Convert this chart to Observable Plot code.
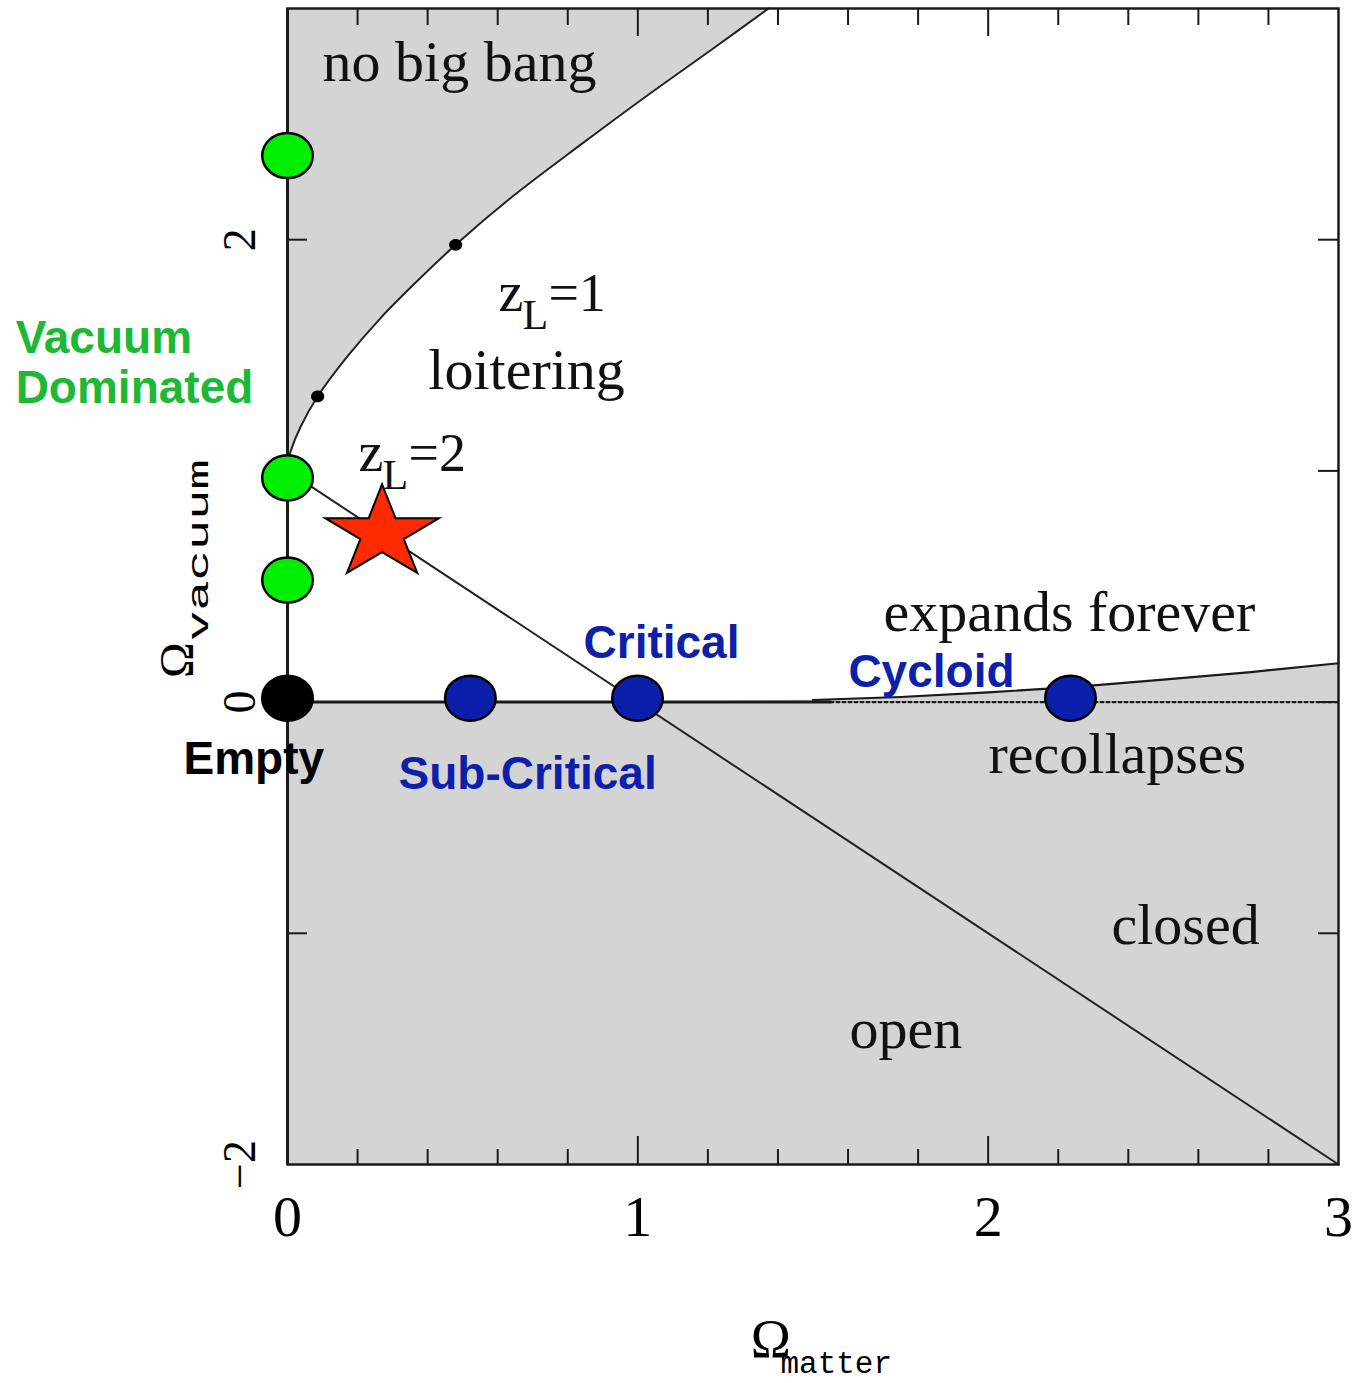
<!DOCTYPE html>
<html><head><meta charset="utf-8">
<script src="https://cdn.jsdelivr.net/npm/d3@7"></script>
<script src="https://cdn.jsdelivr.net/npm/@observablehq/plot@0.6"></script>
<style>html,body{margin:0;padding:0;background:#fff} svg{display:block}</style>
</head><body><div id="chart"></div>
<script>
// ---- data (Ω_matter, Ω_vacuum) ----
const noBigBangX = [0, 0.002, 0.009, 0.037, 0.086, 0.171, 0.265, 0.360, 0.480, 0.645, 0.836, 1.028, 1.216, 1.373];
const noBigBangY = [1.0, 1.04, 1.085, 1.19, 1.322, 1.495, 1.660, 1.806, 1.978, 2.190, 2.410, 2.625, 2.828, 3.0];
const flatX = [0, 3];
const flatY = [1, -2];
const recollapseX = [0, 1.0, 1.25, 1.5, 1.75, 2.0, 2.25, 2.5, 2.75, 3.0];
const recollapseY = [0, 0, 0.003, 0.009, 0.022, 0.042, 0.066, 0.097, 0.130, 0.168];
const zeroSolidX = [0, 1.55];
const zeroDottedX = [1.55, 3];
const loiterX = [0.086, 0.480];
const loiterY = [1.322, 1.978];

const modelName = ["vacuum high", "vacuum mid", "vacuum low", "Empty", "Sub-Critical", "Critical", "Cycloid"];
const modelMatter = [0, 0, 0, 0, 0.522, 0.999, 2.235];
const modelVacuum = [2.364, 0.970, 0.528, 0.017, 0.017, 0.017, 0.017];
const modelKind = ["vacuum", "vacuum", "vacuum", "empty", "matter", "matter", "matter"];

const starMatter = [0.27];
const starVacuum = [0.73];

const regionText = ["no big bang", "loitering", "expands forever", "recollapses", "closed", "open"];
const regionX = [0.100, 0.402, 1.701, 2.001, 2.352, 1.604];
const regionY = [2.688, 1.355, 0.307, -0.307, -1.048, -1.498];

const zlText = ["z", "z"];
const zlSub = ["L", "L"];
const zlRest = ["=1", "=2"];
const zlX = [0.602, 0.203];
const zlY = [1.693, 1.0];

const modelLabelText = ["Vacuum", "Dominated", "Empty", "Sub-Critical", "Critical", "Cycloid"];
const modelLabelKind = ["vacuum", "vacuum", "empty", "matter", "matter", "matter"];
const modelLabelX = [-0.776, -0.776, -0.297, 0.317, 0.845, 1.601];
const modelLabelY = [1.511, 1.294, -0.312, -0.377, 0.190, 0.065];

const xMinorTicks = [0.2, 0.4, 0.6, 0.8, 1.2, 1.4, 1.6, 1.8, 2.2, 2.4, 2.6, 2.8];
const xMajorTicks = [1, 2];
const yTicks = [-1, 0, 1, 2];
const xTickLabels = [0, 1, 2, 3];
const yTickLabels = [-2, 0, 2];

const xAxisSymbol = "Ω", xAxisSub = "matter";
const yAxisSymbol = "Ω", yAxisSub = "vacuum";

// ---- tables ----
const zip = (X, Y) => X.map((x, i) => ({x, y: Y[i]}));
const noBigBang = zip(noBigBangX, noBigBangY);
const flat = zip(flatX, flatY);
const recollapse = zip(recollapseX, recollapseY);
const recollapseLine = recollapse.filter(d => d.x >= 1.5);
const loiter = zip(loiterX, loiterY);
const models = modelName.map((n, i) => ({name: n, x: modelMatter[i], y: modelVacuum[i], kind: modelKind[i]}));
const star = zip(starMatter, starVacuum);
const regions = regionText.map((t, i) => ({text: t, x: regionX[i], y: regionY[i]}));
const zl = zlText.map((t, i) => ({text: t, sub: zlSub[i], rest: zlRest[i], x: zlX[i], y: zlY[i]}));
const modelLabels = modelLabelText.map((t, i) => ({text: t, kind: modelLabelKind[i], x: modelLabelX[i], y: modelLabelY[i]}));

// ---- symbols ----
const ellipse = {
  draw(ctx, size) {
    const r = Math.sqrt(size / Math.PI), rx = r * 1.1, ry = r * 0.98, k = 0.5523;
    ctx.moveTo(rx, 0);
    ctx.bezierCurveTo(rx, ry * k, rx * k, ry, 0, ry);
    ctx.bezierCurveTo(-rx * k, ry, -rx, ry * k, -rx, 0);
    ctx.bezierCurveTo(-rx, -ry * k, -rx * k, -ry, 0, -ry);
    ctx.bezierCurveTo(rx * k, -ry, rx, -ry * k, rx, 0);
    ctx.closePath();
  }
};
const wideStar = {
  draw(ctx, size) {
    const R = Math.sqrt(size / Math.PI), ri = R * 0.382, sx = 1.22;
    for (let i = 0; i < 10; i++) {
      const a = -Math.PI / 2 + i * Math.PI / 5, rr = i % 2 ? ri : R;
      const px = Math.cos(a) * rr * sx, py = Math.sin(a) * rr;
      i ? ctx.lineTo(px, py) : ctx.moveTo(px, py);
    }
    ctx.closePath();
  }
};

const W = 1370, H = 1383, mL = 287, mR = 32, mT = 8, mB = 219;
const plotW = W - mL - mR, plotH = H - mT - mB;
const gray = "#d4d4d4", ink = "#1a1a1a";
const serif = "Liberation Serif", sans = "Liberation Sans", mono = "Liberation Mono";
const kindText = {vacuum: "#1db834", empty: "#000000", matter: "#0d1fab"};

const chart = Plot.plot({
  width: W, height: H,
  marginLeft: mL, marginRight: mR, marginTop: mT, marginBottom: mB,
  x: {domain: [0, 3], axis: null},
  y: {domain: [-2, 3], axis: null},
  color: {domain: ["vacuum", "empty", "matter"], range: ["#00ee00", "#000000", "#0b1faa"]},
  style: {background: "white", overflow: "visible"},
  marks: [
    Plot.areaY(noBigBang, {x: "x", y1: "y", y2: () => 3, curve: "catmull-rom", fill: gray}),
    Plot.areaY(recollapse, {x: "x", y1: () => -2, y2: "y", fill: gray}),
    Plot.line(noBigBang, {x: "x", y: "y", curve: "catmull-rom", stroke: "#222", strokeWidth: 2}),
    Plot.line(flat, {x: "x", y: "y", stroke: "#222", strokeWidth: 2}),
    Plot.line(recollapseLine, {x: "x", y: "y", stroke: ink, strokeWidth: 2.2}),
    Plot.line(zeroSolidX, {x: d => d, y: () => 0, stroke: ink, strokeWidth: 3}),
    Plot.line(zeroDottedX, {x: d => d, y: () => 0, stroke: ink, strokeWidth: 2.2, strokeDasharray: "3,3"}),
    Plot.frame({stroke: ink, strokeWidth: 2.5}),
    Plot.ruleX([0], {stroke: ink, strokeWidth: 3}),
    Plot.tickX(xMinorTicks, {x: d => d, stroke: ink, strokeWidth: 2, insetBottom: plotH - 17}),
    Plot.tickX(xMinorTicks, {x: d => d, stroke: ink, strokeWidth: 2, insetTop: plotH - 15}),
    Plot.tickX(xMajorTicks, {x: d => d, stroke: ink, strokeWidth: 2, insetBottom: plotH - 28}),
    Plot.tickX(xMajorTicks, {x: d => d, stroke: ink, strokeWidth: 2, insetTop: plotH - 28}),
    Plot.tickY(yTicks, {y: d => d, stroke: ink, strokeWidth: 2, insetRight: plotW - 20}),
    Plot.tickY(yTicks, {y: d => d, stroke: ink, strokeWidth: 2, insetLeft: plotW - 20}),
    Plot.text(xTickLabels, {x: d => d, frameAnchor: "bottom", text: d => String(d), textAnchor: "middle", lineAnchor: "top", dy: 30, fontFamily: serif, fontSize: 58, fill: "#000"}),
    Plot.text(yTickLabels, {y: d => d, frameAnchor: "left", text: d => d < 0 ? "\u2212" + Math.abs(d) : String(d), textAnchor: "middle", lineAnchor: "middle", rotate: -90, dx: -47, fontFamily: serif, fontSize: 46, fill: "#000"}),
    // axis titles
    Plot.text([xAxisSymbol], {x: () => 1.322, y: () => -2.831, text: d => d, textAnchor: "start", lineAnchor: "bottom", fontFamily: serif, fontSize: 54, fill: "#000"}),
    Plot.text([xAxisSub], {x: () => 1.407, y: () => -2.90, text: d => d, textAnchor: "start", lineAnchor: "bottom", fontFamily: mono, fontSize: 31, fill: "#000"}),
    Plot.text([yAxisSymbol], {x: () => -0.271, y: () => 0.104, text: d => d, textAnchor: "start", lineAnchor: "bottom", rotate: -90, fontFamily: serif, fontSize: 48, fill: "#000"}),
    Plot.text([yAxisSub], {x: () => -0.228, y: () => 0.264, text: d => d, textAnchor: "start", lineAnchor: "bottom", rotate: -90, fontFamily: mono, fontSize: 30, fill: "#000"}),
    // region labels
    Plot.text(regions, {x: "x", y: "y", text: "text", textAnchor: "start", lineAnchor: "bottom", fontFamily: serif, fontSize: 58, fill: "#111"}),
    Plot.text(zl, {x: "x", y: "y", text: "text", textAnchor: "start", lineAnchor: "bottom", fontFamily: serif, fontSize: 56, fill: "#111"}),
    Plot.text(zl, {x: "x", y: "y", text: "sub", textAnchor: "start", lineAnchor: "bottom", dx: 24, dy: 18, fontFamily: serif, fontSize: 42, fill: "#111"}),
    Plot.text(zl, {x: "x", y: "y", text: "rest", textAnchor: "start", lineAnchor: "bottom", dx: 50, fontFamily: serif, fontSize: 54, fill: "#111"}),
    // markers
    Plot.dot(loiter, {x: "x", y: "y", r: 6, symbol: ellipse, fill: "#000"}),
    Plot.dot(models, {x: "x", y: "y", fill: "kind", stroke: "#000", strokeWidth: 2.5, r: 23, symbol: ellipse}),
    Plot.dot(star, {x: "x", y: "y", r: 49, symbol: wideStar, fill: "#ff2a00", stroke: "#000", strokeWidth: 2}),
    // model labels
    ...["vacuum", "empty", "matter"].map(k =>
      Plot.text(modelLabels.filter(d => d.kind === k), {x: "x", y: "y", text: "text", textAnchor: "start", lineAnchor: "bottom", fontFamily: sans, fontWeight: "bold", fontSize: 46, fill: kindText[k]})
    )
  ]
});
document.getElementById("chart").append(chart);
// stretch the vacuum subscript along its length as in the original
d3.select(chart).selectAll("text").filter(function() { return this.textContent === yAxisSub; })
  .attr("textLength", 182).attr("lengthAdjust", "spacingAndGlyphs");
</script>
</body></html>
